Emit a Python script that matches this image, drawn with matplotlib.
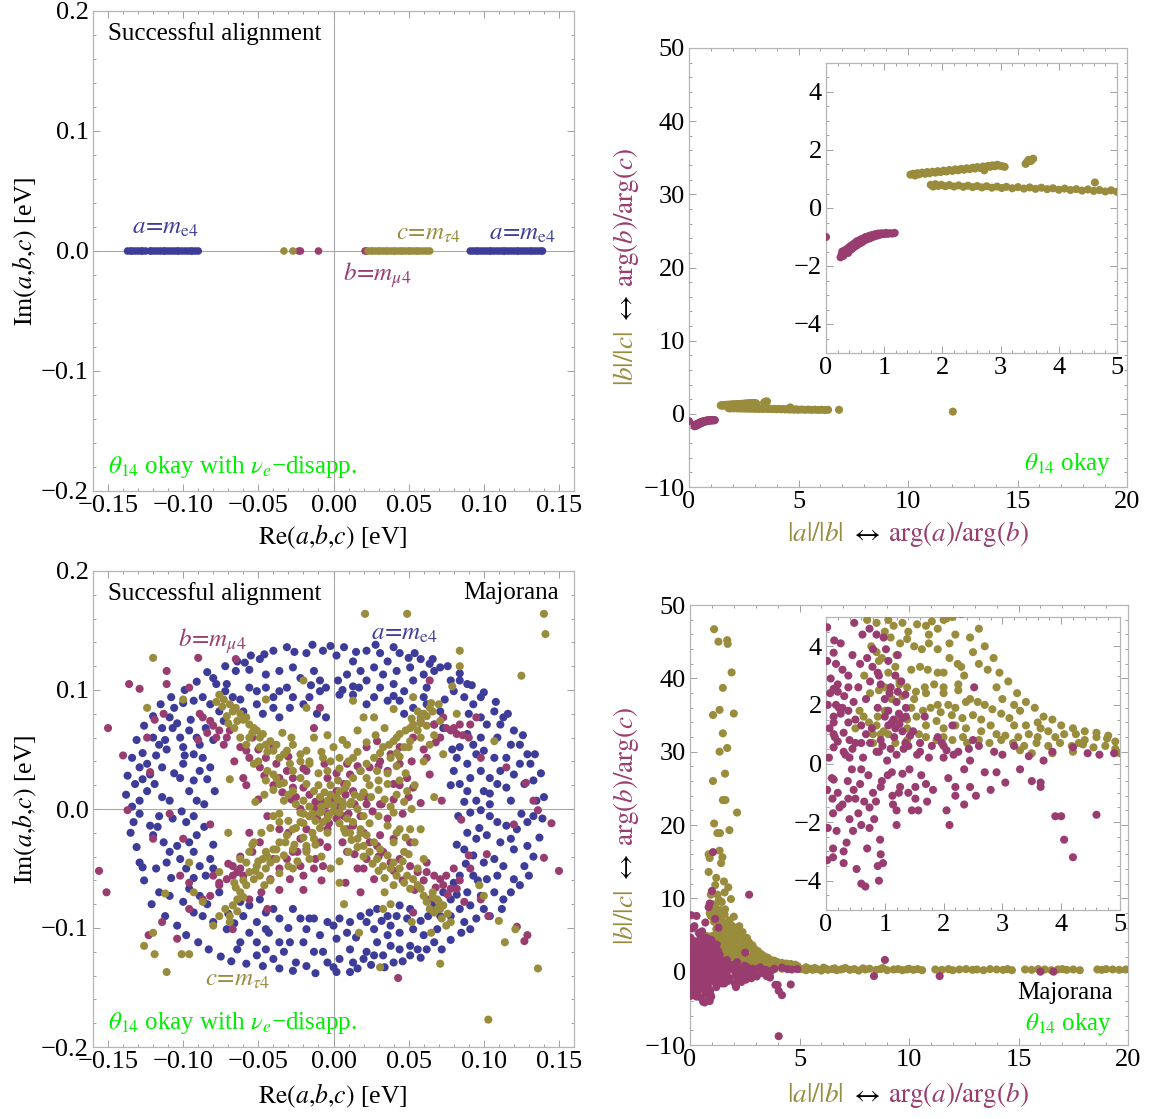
import numpy as np
import matplotlib
matplotlib.use("Agg")
import matplotlib.pyplot as plt
from matplotlib.ticker import AutoMinorLocator, FixedLocator

plt.rcParams['font.family'] = ['Liberation Serif', 'DejaVu Serif']
plt.rcParams['mathtext.fontset'] = 'stix'

BLUE = '#3d3d99'
MAG = '#993d71'
OLIVE = '#998c3d'
GREEN = '#00ee00'

# ---------------- top-left panel (complex plane, points on real axis) ----------------
tl_blue_x = [-0.137, -0.135, -0.134, -0.132, -0.130, -0.128, -0.127, -0.125, -0.122, -0.121,
             -0.119, -0.117, -0.115, -0.113, -0.112, -0.110, -0.108, -0.106, -0.104, -0.103,
             -0.101, -0.099, -0.097, -0.095, -0.094, -0.092, -0.090,
             0.091, 0.093, 0.095, 0.096, 0.098, 0.100, 0.102, 0.104, 0.105, 0.107, 0.109,
             0.111, 0.113, 0.114, 0.116, 0.118, 0.120, 0.122, 0.123, 0.125, 0.127, 0.129,
             0.131, 0.132, 0.134, 0.136, 0.138, 0.139]
tl_blue_y = [0.0] * len(tl_blue_x)
tl_olive_x = [-0.033, -0.027, 0.023, 0.025, 0.026, 0.028, 0.030, 0.031, 0.033, 0.035, 0.036,
              0.038, 0.040, 0.041, 0.043, 0.045, 0.046, 0.048, 0.050, 0.051, 0.053, 0.055,
              0.056, 0.058, 0.060, 0.062, 0.064]
tl_olive_y = [0.0] * len(tl_olive_x)
tl_mag_x = [-0.023, -0.022, -0.010, 0.021, 0.022]
tl_mag_y = [0.0] * len(tl_mag_x)

# ---------------- top-right panel (ratios; inset shows the same data) ----------------
tr_mag = [(0.00, -1.00), (0.25, -1.70), (0.27, -1.60), (0.28, -1.50), (0.30, -1.65), (0.32, -1.55),
          (0.33, -1.45), (0.35, -1.50), (0.37, -1.40), (0.38, -1.55), (0.40, -1.35), (0.42, -1.45),
          (0.43, -1.30), (0.45, -1.40), (0.47, -1.25), (0.48, -1.35), (0.50, -1.20), (0.52, -1.30),
          (0.53, -1.15), (0.55, -1.25), (0.57, -1.12), (0.58, -1.22), (0.60, -1.08), (0.62, -1.18),
          (0.64, -1.05), (0.66, -1.12), (0.68, -1.00), (0.70, -1.08), (0.72, -0.98), (0.74, -1.05),
          (0.76, -0.95), (0.78, -1.02), (0.80, -0.93), (0.83, -0.98), (0.85, -0.90), (0.88, -0.95),
          (0.90, -0.88), (0.93, -0.92), (0.96, -0.87), (1.00, -0.90), (1.03, -0.86), (1.06, -0.89),
          (1.10, -0.87), (1.14, -0.88), (1.18, -0.86)]
tr_olive = [(1.45, 1.15), (1.50, 1.18), (1.53, 1.12), (1.57, 1.20), (1.60, 1.16), (1.65, 1.22),
            (1.70, 1.18), (1.74, 1.24), (1.78, 1.20), (1.83, 1.25), (1.88, 1.22), (1.92, 1.27),
            (1.97, 1.24), (2.02, 1.29), (2.07, 1.26), (2.12, 1.31), (2.17, 1.28), (2.22, 1.33),
            (2.27, 1.30), (2.32, 1.35), (2.37, 1.32), (2.42, 1.37), (2.47, 1.34), (2.52, 1.39),
            (2.56, 1.36), (2.60, 1.41), (2.65, 1.38), (2.70, 1.43), (2.74, 1.40), (2.78, 1.45),
            (2.82, 1.42), (2.86, 1.47), (2.90, 1.44), (2.94, 1.49), (2.98, 1.46), (3.03, 1.44),
            (3.07, 1.42), (2.72, 1.30), (3.43, 1.52), (3.45, 1.58), (3.48, 1.66), (3.52, 1.62),
            (3.56, 1.70),
            (1.80, 0.80), (1.84, 0.74), (1.88, 0.82), (1.93, 0.76), (1.98, 0.80), (2.05, 0.75),
            (2.12, 0.79), (2.20, 0.74), (2.28, 0.78), (2.36, 0.73), (2.44, 0.77), (2.52, 0.72),
            (2.60, 0.76), (2.68, 0.71), (2.76, 0.75), (2.85, 0.70), (2.94, 0.74), (3.02, 0.69),
            (3.10, 0.73), (3.20, 0.68), (3.30, 0.72), (3.40, 0.67), (3.50, 0.71), (3.60, 0.66),
            (3.70, 0.70), (3.80, 0.65), (3.90, 0.68), (4.00, 0.63), (4.10, 0.67), (4.20, 0.62),
            (4.30, 0.65), (4.40, 0.60), (4.50, 0.64), (4.60, 0.59), (4.62, 0.88), (4.70, 0.62),
            (4.80, 0.57), (4.90, 0.61), (5.00, 0.56), (5.15, 0.59), (5.30, 0.55), (5.45, 0.58),
            (5.60, 0.54), (5.75, 0.57), (5.90, 0.53), (6.05, 0.56), (6.20, 0.52), (6.35, 0.55),
            (6.85, 0.55), (12.05, 0.30)]

# ---------------- bottom-left panel (Majorana, complex plane) ----------------
bl_blue = [
    (-0.040, 0.133), (-0.031, 0.136), (-0.018, 0.131), (-0.007, 0.133), (-0.049, 0.126), (-0.059, 0.123),
    (-0.065, 0.116), (-0.056, 0.117), (-0.045, 0.113), (-0.036, 0.116), (-0.027, 0.119), (-0.022, 0.110),
    (-0.013, 0.116), (-0.009, 0.108), (-0.005, 0.102), (-0.036, 0.099), (-0.031, 0.102), (-0.045, 0.102),
    (-0.051, 0.099), (-0.056, 0.102), (-0.071, 0.105), (-0.080, 0.110), (-0.078, 0.105), (-0.072, 0.099),
    (-0.087, 0.094), (-0.093, 0.091), (-0.100, 0.089), (-0.106, 0.085), (-0.109, 0.077), (-0.107, 0.068),
    (-0.114, 0.068), (-0.120, 0.060), (-0.116, 0.054), (-0.127, 0.047), (-0.124, 0.038), (-0.129, 0.035),
    (-0.132, 0.021), (-0.127, 0.025), (-0.122, 0.029), (-0.124, 0.015), (-0.119, 0.021), (-0.114, 0.035),
    (-0.102, 0.060), (-0.100, 0.052), (-0.096, 0.066), (-0.091, 0.060), (-0.093, 0.046), (-0.089, 0.054),
    (-0.087, 0.043), (-0.082, 0.035), (-0.089, 0.032), (-0.093, 0.024), (-0.096, 0.015), (-0.100, 0.038),
    (-0.102, 0.026), (-0.109, 0.007), (-0.114, 0.010), (-0.129, 0.007), (-0.091, 0.007), (-0.067, 0.094),
    (-0.060, 0.082), (-0.051, 0.088), (-0.047, 0.080), (-0.040, 0.085), (-0.036, 0.077), (-0.029, 0.085),
    (-0.020, 0.088), (-0.027, 0.094), (-0.016, 0.094), (-0.009, 0.099), (-0.005, 0.077), (-0.011, 0.080),
    (-0.076, 0.082), (-0.073, 0.074), (-0.134, 0.002), (-0.118, 0.045), (-0.111, 0.050),
    (0.007, 0.136), (0.002, 0.129), (0.013, 0.124), (0.022, 0.133), (0.031, 0.131), (0.044, 0.131),
    (0.050, 0.127), (0.058, 0.126), (0.064, 0.122), (0.071, 0.119), (0.036, 0.124), (0.027, 0.119),
    (0.018, 0.116), (0.009, 0.113), (0.003, 0.108), (0.033, 0.113), (0.042, 0.116), (0.051, 0.119),
    (0.060, 0.113), (0.067, 0.116), (0.022, 0.108), (0.013, 0.103), (0.004, 0.096), (0.031, 0.102),
    (0.040, 0.105), (0.047, 0.099), (0.053, 0.108), (0.062, 0.102), (0.078, 0.108), (0.084, 0.108),
    (0.089, 0.105), (0.080, 0.099), (0.087, 0.094), (0.093, 0.088), (0.098, 0.094), (0.027, 0.094),
    (0.036, 0.091), (0.044, 0.091), (0.053, 0.085), (0.062, 0.088), (0.071, 0.082), (0.022, 0.088),
    (0.013, 0.096), (0.047, 0.080), (0.067, 0.071), (0.073, 0.068), (0.098, 0.077), (0.107, 0.082),
    (0.102, 0.071), (0.111, 0.071), (0.113, 0.077), (0.109, 0.060), (0.098, 0.060), (0.089, 0.063),
    (0.093, 0.054), (0.084, 0.052), (0.100, 0.049), (0.118, 0.054), (0.124, 0.054), (0.129, 0.046),
    (0.131, 0.038), (0.124, 0.038), (0.115, 0.043), (0.107, 0.043), (0.095, 0.046), (0.089, 0.038),
    (0.082, 0.043), (0.080, 0.032), (0.091, 0.026), (0.098, 0.032), (0.104, 0.026), (0.111, 0.032),
    (0.120, 0.029), (0.127, 0.021), (0.133, 0.024), (0.115, 0.018), (0.109, 0.021), (0.100, 0.015),
    (0.089, 0.015), (0.095, 0.007), (0.104, 0.004), (0.118, 0.007), (0.135, 0.007), (0.084, 0.021),
    (0.091, -0.003), (0.098, -0.001), (0.104, -0.006), (0.109, -0.011), (0.115, -0.014), (0.122, -0.017),
    (0.129, -0.011), (0.133, -0.006), (0.089, -0.020), (0.095, -0.025), (0.102, -0.022), (0.111, -0.028),
    (0.120, -0.034), (0.129, -0.031), (0.087, -0.034), (0.093, -0.039), (0.100, -0.045), (0.107, -0.042),
    (0.113, -0.048), (0.127, -0.048), (0.084, -0.056), (0.093, -0.056), (0.102, -0.059), (0.109, -0.056),
    (0.120, -0.059), (0.107, -0.070), (0.113, -0.076), (0.098, -0.073), (0.089, -0.070), (0.080, -0.062),
    (0.073, -0.070), (0.078, -0.076), (0.084, -0.084), (0.091, -0.081), (0.100, -0.084), (0.078, -0.090),
    (0.087, -0.095), (0.091, -0.101), (0.067, -0.081), (0.071, -0.090), (0.069, -0.101), (0.067, -0.112),
    (0.060, -0.106), (0.053, -0.101), (0.049, -0.092), (0.051, -0.084), (0.044, -0.081), (0.042, -0.090),
    (0.038, -0.098), (0.044, -0.104), (0.051, -0.115), (0.056, -0.118), (0.044, -0.118), (0.038, -0.115),
    (0.033, -0.123), (0.036, -0.090), (0.029, -0.084), (0.024, -0.087), (0.022, -0.095), (0.027, -0.101),
    (0.029, -0.112), (0.022, -0.120), (0.027, -0.123), (0.018, -0.090), (0.011, -0.095), (0.004, -0.092),
    (0.009, -0.104), (0.002, -0.109), (0.011, -0.118), (0.004, -0.126), (0.013, -0.129), (0.020, -0.126),
    (0.002, -0.137), (0.011, -0.137), (0.036, -0.106), (0.040, -0.129), (0.051, -0.123),
    (-0.129, -0.004), (-0.133, -0.011), (-0.122, -0.014), (-0.116, -0.006), (-0.107, -0.008), (-0.098, -0.011),
    (-0.093, -0.006), (-0.120, -0.022), (-0.113, -0.028), (-0.109, -0.036), (-0.104, -0.031), (-0.096, -0.028),
    (-0.091, -0.022), (-0.093, -0.036), (-0.129, -0.045), (-0.127, -0.049), (-0.118, -0.050), (-0.111, -0.045),
    (-0.102, -0.042), (-0.089, -0.048), (-0.082, -0.042), (-0.080, -0.050), (-0.085, -0.056), (-0.116, -0.070),
    (-0.109, -0.073), (-0.096, -0.067), (-0.089, -0.073), (-0.100, -0.078), (-0.093, -0.087), (-0.087, -0.090),
    (-0.076, -0.070), (-0.080, -0.095), (-0.071, -0.101), (-0.062, -0.078), (-0.056, -0.081), (-0.049, -0.076),
    (-0.040, -0.084), (-0.045, -0.087), (-0.060, -0.090), (-0.051, -0.095), (-0.056, -0.104), (-0.062, -0.112),
    (-0.064, -0.118), (-0.051, -0.112), (-0.045, -0.118), (-0.036, -0.112), (-0.029, -0.112), (-0.033, -0.120),
    (-0.022, -0.092), (-0.013, -0.092), (-0.004, -0.095), (-0.018, -0.101), (-0.009, -0.106), (-0.020, -0.112),
    (-0.013, -0.120), (-0.007, -0.120), (-0.025, -0.129), (-0.018, -0.132), (-0.040, -0.126), (-0.051, -0.123),
    (-0.027, -0.084), (-0.036, -0.092), (-0.045, -0.101), (-0.004, -0.129)]
bl_blue_more = [
    (-0.138, 0.012), (-0.135, -0.020), (-0.131, -0.032), (-0.126, -0.060), (-0.121, -0.080), (-0.112, -0.090),
    (-0.104, -0.098), (-0.098, -0.106), (-0.090, -0.112), (-0.083, -0.118), (-0.075, -0.124), (-0.068, -0.128),
    (-0.058, -0.130), (-0.047, -0.132), (-0.036, -0.134), (-0.027, -0.136), (-0.012, -0.138), (0.000, -0.133),
    (0.016, -0.134), (0.025, -0.131), (0.034, -0.133), (0.046, -0.128), (0.058, -0.125), (0.062, -0.118),
    (0.072, -0.118), (0.078, -0.110), (0.085, -0.104), (0.095, -0.092), (0.104, -0.090), (0.112, -0.084),
    (0.118, -0.070), (0.124, -0.064), (0.130, -0.056), (0.133, -0.040), (0.137, -0.024), (0.139, -0.008),
    (0.140, 0.010), (0.138, 0.030), (0.134, 0.046), (0.126, 0.062), (0.120, 0.066), (0.116, 0.080),
    (0.108, 0.090), (0.100, 0.098), (0.092, 0.104), (0.084, 0.114), (0.076, 0.120), (0.066, 0.126),
    (0.054, 0.131), (0.040, 0.136), (0.028, 0.138), (0.015, 0.132), (-0.002, 0.137), (-0.014, 0.138),
    (-0.026, 0.132), (-0.046, 0.130), (-0.055, 0.129), (-0.064, 0.124), (-0.072, 0.120), (-0.084, 0.115),
    (-0.091, 0.107), (-0.099, 0.100), (-0.108, 0.094), (-0.115, 0.088), (-0.120, 0.078), (-0.126, 0.070),
    (-0.131, 0.058), (-0.134, 0.043), (-0.137, 0.028),
    (-0.095, 0.075), (-0.085, 0.068), (-0.080, 0.058), (-0.099, 0.045), (-0.106, 0.030), (-0.084, 0.025),
    (-0.079, 0.015), (-0.086, 0.004), (-0.101, -0.002), (-0.117, -0.015), (-0.086, -0.015), (-0.080, -0.030),
    (-0.098, -0.050), (-0.108, -0.058), (-0.093, -0.058), (-0.084, -0.080), (-0.070, -0.088), (-0.066, -0.096),
    (-0.043, -0.104), (-0.030, -0.100), (-0.016, -0.092), (0.000, -0.098), (0.015, -0.108), (0.032, -0.094),
    (0.058, -0.094), (0.063, -0.090), (0.082, -0.072), (0.096, -0.060), (0.088, -0.046), (0.082, -0.030),
    (0.097, -0.016), (0.083, -0.006), (0.118, -0.025), (0.125, -0.004), (0.104, 0.013), (0.087, 0.006),
    (0.078, 0.020), (0.079, 0.050), (0.090, 0.080), (0.074, 0.092), (0.060, 0.094), (0.040, 0.095),
    (0.017, 0.102), (0.006, 0.100), (-0.015, 0.104), (-0.040, 0.094), (-0.062, 0.092), (-0.082, 0.088),
    (-0.104, 0.072), (-0.112, 0.058)]

bl_olive = [
    (-0.120, 0.127), (-0.124, 0.085), (-0.100, 0.092), (-0.076, 0.096), (-0.073, 0.092), (-0.069, 0.088),
    (-0.067, 0.082), (-0.062, 0.080), (-0.060, 0.075), (-0.056, 0.071), (-0.053, 0.068), (-0.051, 0.066),
    (-0.049, 0.060), (-0.047, 0.063), (-0.045, 0.054), (-0.042, 0.057), (-0.040, 0.049), (-0.036, 0.043),
    (-0.033, 0.046), (-0.029, 0.038), (-0.027, 0.032), (-0.022, 0.026), (-0.018, 0.021), (-0.013, 0.015),
    (-0.009, 0.010), (-0.004, 0.007), (-0.058, 0.077), (-0.064, 0.074), (-0.056, 0.060), (-0.049, 0.052),
    (-0.038, 0.054), (-0.031, 0.049), (-0.027, 0.054), (-0.018, 0.049), (-0.013, 0.060), (-0.022, 0.040),
    (-0.016, 0.038), (-0.007, 0.043), (-0.004, 0.032), (-0.040, 0.029), (-0.036, 0.021), (-0.045, 0.024),
    (-0.027, 0.015), (-0.020, 0.007), (-0.033, 0.007), (-0.069, 0.025), (-0.053, 0.038), (-0.020, 0.108),
    (-0.018, 0.085), (-0.045, 0.092), (-0.065, 0.085), (-0.071, 0.078), (-0.054, 0.064), (-0.044, 0.048),
    (0.021, 0.164), (0.049, 0.164), (0.140, 0.164), (0.141, 0.147), (0.084, 0.133), (0.084, 0.120),
    (0.125, 0.112), (0.079, 0.103), (0.065, 0.089), (0.064, 0.085), (0.060, 0.080), (0.058, 0.077),
    (0.053, 0.071), (0.051, 0.068), (0.048, 0.066), (0.044, 0.063), (0.042, 0.060), (0.040, 0.057),
    (0.037, 0.054), (0.033, 0.052), (0.031, 0.047), (0.027, 0.043), (0.022, 0.038), (0.018, 0.032),
    (0.013, 0.026), (0.009, 0.021), (0.004, 0.015), (0.002, 0.010), (0.056, 0.066), (0.058, 0.060),
    (0.051, 0.057), (0.047, 0.052), (0.042, 0.047), (0.038, 0.043), (0.027, 0.077), (0.020, 0.077),
    (0.013, 0.091), (0.040, 0.084), (0.053, 0.094), (0.016, 0.066), (0.009, 0.054), (0.004, 0.043),
    (0.013, 0.043), (0.022, 0.026), (0.029, 0.032), (0.036, 0.021), (0.044, 0.024), (0.049, 0.015),
    (0.018, 0.010), (0.011, 0.004), (0.060, 0.040), (0.064, 0.054), (0.067, 0.010), (0.082, 0.080),
    (0.107, 0.057), (0.073, 0.046), (0.062, 0.070), (0.067, 0.062), (0.071, 0.074),
    (-0.070, -0.020), (-0.062, -0.042), (-0.058, -0.045), (-0.056, -0.053), (-0.053, -0.059), (-0.058, -0.064),
    (-0.062, -0.070), (-0.064, -0.076), (-0.067, -0.081), (-0.069, -0.090), (-0.076, -0.090), (-0.080, -0.098),
    (-0.051, -0.048), (-0.047, -0.042), (-0.045, -0.036), (-0.040, -0.034), (-0.036, -0.028), (-0.031, -0.022),
    (-0.027, -0.017), (-0.022, -0.011), (-0.016, -0.006), (-0.009, -0.003), (-0.049, -0.056), (-0.045, -0.050),
    (-0.042, -0.045), (-0.038, -0.042), (-0.033, -0.039), (-0.027, -0.034), (-0.018, -0.031), (-0.013, -0.025),
    (-0.004, -0.020), (-0.007, -0.011), (-0.022, -0.003), (-0.036, -0.011), (-0.040, -0.006), (-0.053, -0.028),
    (-0.056, -0.036), (-0.027, -0.050), (-0.016, -0.042), (-0.096, -0.045), (-0.076, -0.053), (-0.087, -0.078),
    (-0.112, -0.071), (-0.120, -0.104), (-0.126, -0.115), (-0.119, -0.122), (-0.101, -0.122), (-0.096, -0.122),
    (-0.111, -0.137), (-0.093, -0.070), (-0.069, -0.095), (-0.060, -0.060), (-0.065, -0.066),
    (0.004, -0.003), (0.009, -0.008), (0.013, -0.011), (0.018, -0.017), (0.022, -0.022), (0.027, -0.028),
    (0.031, -0.034), (0.036, -0.039), (0.040, -0.045), (0.044, -0.050), (0.049, -0.056), (0.053, -0.059),
    (0.056, -0.064), (0.058, -0.067), (0.060, -0.073), (0.062, -0.078), (0.064, -0.084), (0.067, -0.087),
    (0.071, -0.084), (0.073, -0.081), (0.075, -0.098), (0.078, -0.095), (0.051, -0.067), (0.047, -0.062),
    (0.042, -0.056), (0.038, -0.050), (0.033, -0.048), (0.029, -0.042), (0.024, -0.036), (0.020, -0.031),
    (0.016, -0.025), (0.011, -0.020), (0.007, -0.017), (0.040, -0.003), (0.044, -0.017), (0.051, -0.017),
    (0.058, -0.017), (0.040, -0.028), (0.047, -0.036), (0.060, -0.042), (0.056, -0.050), (0.004, -0.062),
    (0.007, -0.080), (0.034, -0.070), (0.017, -0.104), (0.038, -0.080), (0.052, -0.095), (0.065, -0.104),
    (0.031, -0.133), (0.071, -0.130), (0.097, -0.064), (0.100, -0.073), (0.110, -0.094), (0.114, -0.112),
    (0.121, -0.101), (0.136, -0.134), (0.103, -0.177), (0.033, -0.084), (0.066, -0.070), (0.069, -0.076),
    (0.000, 0.003), (-0.003, -0.005), (0.006, 0.002), (-0.008, 0.002), (0.003, 0.008), (-0.002, 0.012)]
bl_olive_more = [
    (-0.050, 0.040), (-0.044, 0.032), (-0.038, 0.026), (-0.033, 0.022), (-0.030, 0.012), (-0.025, 0.004),
    (-0.020, -0.004), (-0.016, 0.002), (-0.012, -0.010), (-0.010, 0.020), (-0.006, 0.014), (-0.002, 0.020),
    (0.003, 0.024), (0.008, 0.018), (0.012, 0.006), (0.016, 0.000), (0.020, -0.006), (0.025, 0.010),
    (0.030, 0.016), (0.034, 0.008), (0.038, 0.002), (0.042, 0.012), (0.047, 0.006), (0.052, 0.000),
    (0.054, 0.020), (0.048, 0.030), (0.042, 0.036), (0.036, 0.030), (0.030, 0.024), (0.024, 0.020),
    (0.020, 0.014), (0.014, 0.012), (0.006, 0.006), (0.000, -0.002), (-0.004, -0.008), (-0.009, -0.016),
    (-0.014, -0.020), (-0.020, -0.024), (-0.026, -0.030), (-0.032, -0.028), (-0.038, -0.034), (-0.044, -0.040),
    (-0.050, -0.044), (-0.054, -0.030), (-0.048, -0.020), (-0.042, -0.016), (-0.036, -0.004), (-0.030, -0.010),
    (-0.025, -0.016), (-0.020, -0.012), (-0.014, -0.004), (-0.008, -0.002), (-0.004, 0.004), (0.004, -0.012),
    (0.008, -0.020), (0.012, -0.026), (0.016, -0.032), (0.020, -0.040), (0.026, -0.046), (0.030, -0.052),
    (0.034, -0.058), (0.040, -0.064), (0.046, -0.044), (0.050, -0.038), (0.054, -0.028), (0.048, -0.024),
    (0.042, -0.020), (0.036, -0.014), (0.030, -0.006), (0.024, -0.012), (0.018, -0.020), (0.010, -0.036),
    (0.004, -0.044), (-0.002, -0.050), (-0.008, -0.040), (-0.012, -0.030), (-0.018, -0.036), (-0.024, -0.044),
    (-0.030, -0.048), (-0.036, -0.054), (-0.042, -0.060), (-0.046, -0.064), (-0.052, -0.052), (-0.010, 0.030),
    (-0.016, 0.040), (-0.022, 0.046), (-0.028, 0.060), (-0.034, 0.064), (-0.008, 0.048), (-0.002, 0.040),
    (0.004, 0.034), (0.010, 0.040), (0.016, 0.048), (0.022, 0.056), (0.028, 0.062), (0.034, 0.068),
    (0.006, 0.058), (0.000, 0.052), (-0.004, 0.062), (0.044, 0.044), (0.050, 0.052), (-0.046, 0.012),
    (-0.052, 0.006), (-0.040, 0.016), (-0.058, 0.054), (-0.062, 0.060), (-0.066, 0.068), (-0.070, 0.072),
    (-0.074, 0.086), (-0.078, 0.090), (0.066, -0.074), (0.070, -0.078), (0.072, -0.092), (0.076, -0.088),
    (0.069, -0.084), (-0.060, -0.074), (-0.066, -0.062), (-0.064, -0.086), (-0.072, -0.084), (0.058, 0.072),
    (0.062, 0.078), (0.066, 0.082), (0.070, 0.088), (0.056, 0.082), (0.052, 0.076)]

bl_mag = [
    (-0.090, 0.127), (-0.065, 0.126), (-0.111, 0.116), (-0.111, 0.105), (-0.136, 0.105), (-0.129, 0.101),
    (-0.096, 0.102), (-0.150, 0.068), (-0.140, 0.045), (-0.119, 0.075), (-0.113, 0.080), (-0.124, 0.060),
    (-0.122, 0.031), (-0.089, 0.080), (-0.087, 0.077), (-0.082, 0.074), (-0.080, 0.070), (-0.076, 0.066),
    (-0.078, 0.060), (-0.071, 0.060), (-0.069, 0.066), (-0.073, 0.054), (-0.058, 0.049), (-0.056, 0.043),
    (-0.049, 0.035), (-0.045, 0.043), (-0.038, 0.038), (-0.031, 0.032), (-0.027, 0.026), (-0.020, 0.018),
    (-0.016, 0.012), (-0.009, 0.007), (-0.025, 0.010), (-0.018, 0.032), (-0.013, 0.068), (-0.027, 0.018),
    (-0.036, 0.026), (-0.004, 0.026), (-0.060, 0.026), (-0.009, 0.085),
    (0.064, 0.108), (0.058, 0.074), (0.067, 0.071), (0.075, 0.068), (0.078, 0.066), (0.080, 0.068),
    (0.084, 0.071), (0.082, 0.063), (0.091, 0.071), (0.095, 0.077), (0.073, 0.077), (0.071, 0.060),
    (0.053, 0.060), (0.044, 0.052), (0.038, 0.046), (0.031, 0.040), (0.024, 0.035), (0.018, 0.032),
    (0.011, 0.029), (0.007, 0.021), (0.002, 0.015), (0.009, 0.038), (0.022, 0.052), (0.029, 0.057),
    (0.036, 0.032), (0.044, 0.038), (0.040, 0.021), (0.049, 0.026), (0.013, 0.015), (0.022, 0.010),
    (0.031, 0.004), (0.053, 0.018), (0.064, 0.029), (0.058, 0.005), (0.072, 0.007), (0.115, 0.035),
    (0.128, 0.022), (0.133, 0.007), (0.098, 0.043), (0.062, 0.043),
    (0.002, -0.008), (0.007, -0.006), (0.013, -0.014), (0.020, -0.020), (0.024, -0.028), (0.029, -0.031),
    (0.033, -0.036), (0.038, -0.045), (0.044, -0.042), (0.051, -0.048), (0.056, -0.053), (0.062, -0.053),
    (0.067, -0.056), (0.071, -0.059), (0.073, -0.064), (0.075, -0.056), (0.080, -0.050), (0.082, -0.067),
    (0.078, -0.067), (0.087, -0.078), (0.091, -0.050), (0.098, -0.076), (0.103, -0.090), (0.122, -0.099),
    (0.129, -0.106), (0.127, -0.111), (0.140, -0.041), (0.145, -0.012), (0.150, -0.052), (0.136, -0.001),
    (0.043, -0.142), (0.085, -0.009), (0.090, -0.039), (0.102, -0.038), (0.120, -0.013), (0.018, -0.006),
    (0.009, -0.017), (0.031, -0.022), (0.040, -0.025), (0.051, -0.028), (0.022, -0.042), (0.027, -0.059),
    (0.016, -0.050), (0.009, -0.036), (0.062, -0.045), (0.053, -0.087), (0.064, -0.076),
    (-0.137, -0.001), (-0.156, -0.052), (-0.151, -0.070), (-0.082, -0.013), (-0.109, -0.004), (-0.120, -0.025),
    (-0.100, -0.025), (-0.102, -0.056), (-0.096, -0.062), (-0.080, -0.056), (-0.076, -0.062), (-0.071, -0.059),
    (-0.067, -0.056), (-0.064, -0.053), (-0.062, -0.050), (-0.076, -0.064), (-0.067, -0.048), (-0.060, -0.056),
    (-0.056, -0.020), (-0.042, -0.059), (-0.036, -0.050), (-0.029, -0.059), (-0.022, -0.048), (-0.020, -0.056),
    (-0.013, -0.050), (-0.007, -0.048), (-0.018, -0.034), (-0.022, -0.025), (-0.027, -0.036), (-0.031, -0.042),
    (-0.009, -0.028), (-0.004, -0.017), (-0.011, -0.008), (-0.018, -0.017), (-0.036, -0.017), (-0.049, -0.028),
    (-0.040, -0.042), (-0.114, -0.095), (-0.123, -0.106), (-0.104, -0.109), (-0.067, -0.101), (-0.087, -0.076),
    (-0.096, -0.084), (-0.082, -0.073),
    (-0.005, 0.003), (0.003, -0.004), (-0.012, 0.006), (0.008, 0.012), (-0.003, -0.012)]
bl_mag_more = [
    (-0.046, 0.028), (-0.040, 0.020), (-0.034, 0.014), (-0.028, 0.008), (-0.022, 0.000), (-0.016, -0.006),
    (-0.012, 0.000), (-0.008, 0.006), (-0.004, -0.004), (0.000, 0.008), (0.004, 0.002), (0.010, -0.004),
    (0.014, 0.004), (0.018, 0.010), (0.022, 0.004), (0.026, -0.002), (0.032, 0.004), (0.036, -0.008),
    (0.040, 0.008), (0.046, -0.004), (0.050, 0.010), (0.044, 0.020), (0.030, 0.036), (0.016, 0.036),
    (0.002, 0.030), (-0.006, 0.038), (-0.020, 0.034), (-0.030, 0.044), (-0.040, 0.052), (-0.050, 0.050),
    (-0.054, 0.060), (-0.062, 0.052), (-0.066, 0.040), (-0.058, 0.020), (-0.050, 0.008), (-0.044, -0.006),
    (-0.030, -0.020), (-0.024, -0.036), (-0.012, -0.042), (-0.004, -0.032), (0.006, -0.028), (0.014, -0.038),
    (0.020, -0.050), (0.030, -0.040), (0.040, -0.052), (0.046, -0.060), (0.054, -0.068), (0.060, -0.060),
    (0.068, -0.066), (0.076, -0.072), (0.084, -0.060), (-0.048, -0.070), (-0.056, -0.076), (-0.044, -0.084),
    (-0.036, -0.068), (-0.020, -0.068), (-0.008, -0.060), (0.008, -0.062), (0.018, -0.070), (0.052, 0.040),
    (0.060, 0.050), (0.068, 0.056), (0.086, 0.062), (0.090, 0.060), (-0.084, 0.064), (-0.090, 0.058),
    (-0.062, -0.040), (-0.070, -0.046), (-0.054, -0.036)]

# ---------------- bottom-right panel (Majorana ratios; inset shows the same data) ----------------
br_olive = [
    (0.70, 4.90), (0.86, 4.80), (1.06, 4.90), (1.30, 4.80), (1.55, 4.75), (1.80, 4.85), (2.00, 4.90),
    (2.15, 5.00), (1.70, 4.70), (2.05, 4.95), (0.77, 4.00), (0.86, 3.80), (0.95, 3.60), (1.10, 4.30),
    (1.26, 4.10), (1.38, 4.25), (1.50, 4.00), (1.63, 3.90), (1.75, 4.10), (1.90, 3.90), (2.10, 3.60),
    (2.24, 3.40), (1.60, 3.30), (1.73, 3.20), (1.90, 3.10), (1.18, 3.30), (1.06, 3.10), (1.25, 2.80),
    (1.38, 2.60), (1.53, 2.45), (1.68, 2.60), (1.84, 2.70), (2.00, 2.60), (2.25, 2.70), (2.45, 2.20),
    (2.58, 2.10), (2.08, 2.00), (2.20, 1.90), (1.90, 2.00), (1.78, 1.90), (1.65, 1.80), (1.54, 1.60),
    (1.38, 1.50), (1.26, 1.50), (0.64, 1.60), (0.57, 1.80), (0.73, 1.40), (0.86, 1.30), (0.98, 1.10),
    (0.80, 1.00), (1.06, 1.00), (1.38, 1.20), (1.70, 1.30), (1.88, 1.45), (2.00, 1.20), (2.20, 1.30),
    (2.38, 1.20), (2.64, 1.50), (2.83, 1.85), (2.98, 1.70), (3.12, 1.55), (2.64, 1.10), (2.90, 1.00),
    (3.05, 0.95), (3.27, 0.90), (3.45, 1.00), (3.65, 1.20), (3.78, 1.10), (4.05, 1.00), (4.25, 1.00),
    (4.60, 0.90), (4.78, 0.85), (4.92, 0.75), (1.70, 0.90), (1.88, 0.80), (2.00, 0.90), (2.15, 0.80),
    (2.33, 0.90), (2.40, 0.70), (2.60, 0.80), (2.78, 0.70), (2.98, 0.80), (3.18, 0.70), (3.37, 0.60),
    (3.58, 0.70), (3.78, 0.60), (3.98, 0.70), (4.18, 0.60), (4.37, 0.65), (4.55, 0.55), (4.75, 0.60),
    (4.92, 0.50), (5.00, 0.35), (3.30, 0.45), (3.85, 0.35), (4.20, 0.40), (3.50, 0.35), (1.38, 0.80),
    (1.58, 1.00), (1.18, 0.70), (0.93, 1.00), (0.80, 0.70), (0.50, 1.20), (2.00, 2.40), (2.25, 2.50),
    (2.38, 2.10), (1.70, 2.40), (1.30, 2.30), (1.12, 2.20), (1.00, 1.80), (0.88, 1.60), (2.70, 2.00),
    (2.50, 1.65), (2.32, 1.55), (2.14, 1.65), (1.95, 1.75), (1.50, 2.20), (1.25, 2.70), (1.45, 3.20),
    (2.00, 3.10), (2.10, 4.10), (2.30, 3.30), (1.20, 3.70), (1.00, 4.50), (0.90, 2.50), (1.45, 1.90),
    (1.10, 46.70), (1.30, 45.00), (1.70, 45.20), (1.72, 44.70), (1.90, 40.80), (1.50, 38.70), (1.05, 35.00),
    (1.35, 35.70), (2.00, 35.20), (1.50, 32.50), (1.35, 30.00), (1.70, 30.50), (1.60, 27.00), (1.05, 26.00),
    (1.50, 23.40), (1.62, 23.40), (2.15, 21.70), (1.10, 20.20), (1.25, 18.90), (1.37, 18.90), (1.80, 19.30),
    (0.85, 16.00), (0.90, 15.50), (1.48, 15.60), (1.42, 14.80), (0.85, 13.60), (1.20, 12.80), (1.55, 12.30),
    (1.75, 11.50), (1.87, 9.90), (1.05, 9.20), (1.30, 8.00), (1.40, 7.20), (1.50, 6.50), (1.70, 6.00),
    (1.25, 10.50), (1.15, 11.80), (1.45, 9.50), (1.60, 8.50), (2.00, 7.50), (2.20, 5.50), (1.90, 6.30),
    (1.10, 6.80), (1.20, 5.80), (0.95, 7.60), (1.58, 10.80), (1.35, 16.50),
    (5.10, 0.35), (5.30, 0.20), (5.50, 0.40), (5.60, 0.25), (5.80, 0.35), (6.00, 0.15), (6.20, 0.40),
    (6.30, 0.25), (6.50, 0.35), (6.70, 0.20), (6.90, 0.30), (7.00, 0.40), (7.30, 0.25), (7.50, 0.35),
    (7.70, 0.15), (8.00, 0.30), (8.20, 0.40), (8.50, 0.25), (8.70, 0.35), (9.00, 0.20), (9.30, 0.30),
    (9.50, 0.35), (9.70, 0.20), (9.90, 0.30), (10.20, 0.25), (10.40, 0.35), (10.60, 0.20), (11.20, 0.30),
    (11.50, 0.25), (11.80, 0.35), (12.00, 0.20), (12.30, 0.30), (12.60, 0.35), (12.90, 0.25), (13.10, 0.30),
    (13.40, 0.20), (13.70, 0.35), (14.00, 0.30), (14.30, 0.25), (14.50, 0.35), (14.70, 0.20), (15.30, 0.30),
    (15.60, 0.25), (15.90, 0.35), (16.20, 0.30), (16.50, 0.20), (16.80, 0.30), (17.00, 0.35), (17.20, 0.25),
    (17.50, 0.30), (17.80, 0.20), (18.60, 0.30), (18.80, 0.25), (19.00, 0.35), (19.30, 0.30), (19.60, 0.25),
    (19.90, 0.30), (3.20, 1.30), (3.60, 0.90), (4.40, 0.80)]
br_olive_more = [
    (0.95, 10.5), (1.05, 8.2), (1.15, 9.0), (1.20, 7.5), (1.28, 6.8), (1.32, 9.8), (1.38, 8.4), (1.45, 7.0),
    (1.52, 5.6), (1.58, 7.8), (1.65, 6.6), (1.72, 5.2), (1.80, 7.0), (1.85, 5.8), (1.95, 5.3), (2.05, 6.0),
    (2.10, 5.2), (2.25, 6.2), (2.30, 5.1), (2.40, 5.4), (2.60, 4.6), (2.70, 4.0), (2.85, 3.6), (2.95, 3.1),
    (3.10, 2.8), (3.25, 2.4), (3.40, 2.1), (3.55, 1.9), (3.70, 1.6), (3.85, 1.5), (4.00, 1.3), (4.20, 1.2),
    (4.40, 1.1), (4.60, 1.05), (4.80, 0.95), (2.50, 3.8), (2.75, 3.2), (3.00, 2.2), (3.30, 1.8), (3.60, 1.4),
    (0.90, 8.0), (1.10, 7.0), (1.35, 5.8), (1.60, 5.4), (1.90, 4.6), (2.20, 4.4), (2.45, 4.3), (2.60, 3.4),
    (2.90, 2.6), (3.20, 2.0), (1.75, 4.4), (2.35, 3.0), (1.40, 4.5), (0.75, 2.4), (0.65, 3.0), (0.90, 3.5),
    (1.15, 4.7), (1.00, 2.6), (2.80, 1.3), (3.40, 1.3), (3.90, 0.9), (4.30, 0.7), (5.30, 0.6), (5.70, 0.5),
    (6.10, 0.55), (6.60, 0.45), (7.10, 0.5), (7.90, 0.45), (8.80, 0.5), (10.00, 0.4)]

br_mag = [
    (0.02, 4.65), (0.13, 3.78), (0.02, 3.50), (0.17, 3.40), (0.28, 3.20), (0.38, 3.00), (0.20, 2.70),
    (0.13, 2.55), (0.07, 2.40), (0.20, 2.45), (0.31, 2.30), (0.47, 2.10), (0.17, 2.00), (0.28, 1.90),
    (0.38, 1.80), (0.13, 1.60), (0.25, 1.70), (0.13, 1.40), (0.38, 1.40), (0.70, 3.60), (0.86, 4.40),
    (0.98, 4.30), (0.79, 3.30), (0.88, 3.10), (1.06, 3.50), (1.18, 3.00), (0.75, 2.80), (0.93, 2.70),
    (1.10, 2.60), (1.22, 2.45), (1.35, 2.35), (1.00, 2.20), (1.20, 2.10), (0.88, 1.90), (1.06, 1.80),
    (1.24, 1.70), (1.36, 1.60), (1.12, 1.40), (1.06, 1.30), (1.18, 1.20), (1.30, 1.10), (1.43, 0.95),
    (0.68, 1.00), (0.30, 1.05), (0.13, 1.00), (0.40, 0.80), (0.60, 0.70), (0.75, 0.70), (0.93, 0.80),
    (1.35, 0.70), (1.60, 0.70), (1.80, 0.60), (2.00, 0.60), (0.13, 0.55), (0.30, 0.40), (0.50, 0.70),
    (0.20, 0.75), (1.60, 0.40), (2.50, 0.80), (2.52, 2.60), (2.86, 0.40), (3.20, 0.60), (3.45, 0.25),
    (3.70, 0.10), (3.85, 0.40), (4.20, 0.55), (4.45, 0.35), (4.65, 0.30), (4.90, 0.35), (2.05, 0.45),
    (2.17, 0.30), (2.43, 0.50), (1.97, 0.70), (1.25, 1.35), (1.15, 1.50), (1.30, 1.55), (0.55, 2.60),
    (0.60, 1.30), (0.45, 0.50), (0.90, 0.40), (1.10, 0.50),
    (0.13, -0.55), (0.20, -1.00), (0.02, -0.90), (0.11, -1.20), (0.23, -1.50), (0.38, -1.20), (0.47, -0.90),
    (0.37, -0.60), (0.58, -0.70), (0.50, -1.20), (0.74, -1.50), (0.80, -1.00), (0.93, -0.80), (1.05, -0.40),
    (1.13, -1.10), (1.30, -0.35), (1.24, -1.00), (1.40, -1.00), (1.52, -0.80), (1.70, -0.70), (1.46, -1.60),
    (1.57, -1.60), (1.20, -1.60), (1.20, -2.10), (2.10, -2.10), (2.20, -0.80), (2.20, -1.10), (2.35, -0.20),
    (2.45, -0.80), (2.55, -1.10), (2.70, -0.30), (2.90, -0.30), (3.05, -0.65), (3.65, -0.65), (3.65, -0.80),
    (3.90, -1.80), (4.00, -1.80), (4.05, -2.60), (4.20, -3.20), (4.60, -1.75), (0.46, -2.30), (0.60, -2.10),
    (0.12, -2.90), (0.12, -3.20), (0.02, -3.30), (0.30, -3.00), (0.30, -3.40), (0.60, -4.10), (0.67, -4.20),
    (0.93, -3.10), (0.97, -3.40), (0.88, -3.50), (0.90, -4.00), (0.40, -1.90), (0.74, -2.20), (0.65, -1.30),
    (0.85, -1.30),
    (0.05, 7.70), (0.30, 7.60), (0.20, 6.20), (0.70, 6.70), (0.90, 9.30), (1.00, 11.00), (1.05, 16.30),
    (0.85, 8.80), (1.15, 7.20), (1.30, 6.00), (0.55, 5.50), (2.70, 10.50), (0.10, 5.90), (0.40, 5.30),
    (4.05, -8.80), (8.40, -0.60), (8.90, 1.60), (11.40, -0.60), (16.00, 0.00), (16.60, 0.00)]
br_mag_more = [
    (0.05, 0.2), (0.10, -0.5), (0.15, 0.9), (0.22, 1.9), (0.28, -1.4), (0.33, 0.3), (0.38, 2.6), (0.44, -0.2),
    (0.50, 1.5), (0.55, -1.7), (0.58, 3.4), (0.63, 0.2), (0.68, 2.2), (0.72, -0.4), (0.78, 1.2), (0.82, -1.9),
    (0.86, 0.4), (0.90, 3.0), (0.95, -0.6), (1.00, 1.6), (1.04, 0.1), (1.08, 2.4), (1.12, -0.3), (1.16, 0.9),
    (1.22, 3.7), (1.26, -0.8), (1.32, 0.5), (1.36, 1.9), (1.42, -0.2), (1.48, 1.1), (1.55, 0.3), (1.62, -0.4),
    (1.68, 1.6), (1.75, 0.2), (1.82, -0.9), (1.90, 0.9), (2.00, 0.2), (2.08, -0.5), (2.15, 1.3), (2.25, 0.4),
    (2.35, -1.4), (2.45, 0.1), (2.60, 0.6), (2.80, -0.9), (3.00, 0.3), (3.30, -0.2), (3.50, -0.6), (0.08, 2.9),
    (0.18, -2.3), (0.25, 4.1), (0.35, -2.7), (0.45, 3.7), (0.52, -3.6), (0.62, 4.4), (0.70, -2.9), (0.80, 3.9),
    (0.92, -2.6), (1.02, 3.9), (1.14, -1.4), (1.28, 2.8), (0.06, 1.2), (0.12, -1.7), (0.40, 0.2), (0.60, -0.2),
    (0.96, 0.6), (1.20, 0.3), (1.40, 0.6), (1.52, -1.2), (1.72, -1.3), (2.05, -1.6), (0.03, -2.2), (0.03, 2.0),
    (0.14, 4.2), (0.48, 4.8), (0.74, 4.6)]


def xy(*lists):
    a = np.array([p for lst in lists for p in lst], dtype=float)
    return a[:, 0], a[:, 1]


FIG_W, FIG_H = 1153, 1119
fig = plt.figure(figsize=(FIG_W / 100, FIG_H / 100), dpi=100)


def axes_px(l, t, r, b):
    return fig.add_axes([l / FIG_W, 1 - b / FIG_H, (r - l) / FIG_W, (b - t) / FIG_H])


TICK_FS = 19
LABEL_FS = 18.5
ANN_FS = 18
MC_FS = 19.5


def fmt(v, nd):
    s = f"{v:.{nd}f}"
    if v < 0:
        s = "\u2212" + s[1:]
    return s


def style(ax, xlim, ylim, xt, yt, xnd, ynd, xminor, yminor, fs=TICK_FS):
    ax.set_xlim(*xlim)
    ax.set_ylim(*ylim)
    ax.xaxis.set_major_locator(FixedLocator(xt))
    ax.yaxis.set_major_locator(FixedLocator(yt))
    ax.set_xticklabels([fmt(v, xnd) for v in xt])
    ax.set_yticklabels([fmt(v, ynd) for v in yt])
    ax.xaxis.set_minor_locator(AutoMinorLocator(xminor))
    ax.yaxis.set_minor_locator(AutoMinorLocator(yminor))
    for s in ax.spines.values():
        s.set_color('#b5b5b5')
        s.set_linewidth(0.9)
    ax.tick_params(which='both', direction='in', top=True, right=True, color='#a0a0a0',
                   labelsize=fs, width=0.7)
    ax.tick_params(which='major', length=5, pad=3)
    ax.tick_params(which='minor', length=2.5)


S_TOP = 30
S = 34

# ---- top-left
ax1 = axes_px(93, 11, 574, 491)
style(ax1, (-0.16, 0.16), (-0.2, 0.2), [-0.15, -0.10, -0.05, 0.0, 0.05, 0.10, 0.15],
      [-0.2, -0.1, 0.0, 0.1, 0.2], 2, 1, 5, 5)
ax1.axhline(0, color='#a8a8a8', lw=0.8, zorder=0)
ax1.axvline(0, color='#a8a8a8', lw=0.8, zorder=0)
ax1.scatter(tl_blue_x, tl_blue_y, s=S_TOP, color=BLUE, edgecolors='none', zorder=3)
ax1.scatter(tl_mag_x, tl_mag_y, s=S_TOP, color=MAG, edgecolors='none', zorder=3)
ax1.scatter(tl_olive_x, tl_olive_y, s=S_TOP, color=OLIVE, edgecolors='none', zorder=3)
ax1.text(-0.150, 0.1815, "Successful alignment", fontsize=ANN_FS, va='center', ha='left')
ax1.text(-0.112, 0.019, r"$a\!=\!m_{\mathrm{e}4}$", color=BLUE, fontsize=ANN_FS, ha='center', va='center')
ax1.text(0.126, 0.014, r"$a\!=\!m_{\mathrm{e}4}$", color=BLUE, fontsize=ANN_FS, ha='center', va='center')
ax1.text(0.063, 0.014, r"$c\!=\!m_{\tau4}$", color=OLIVE, fontsize=ANN_FS, ha='center', va='center')
ax1.text(0.029, -0.020, r"$b\!=\!m_{\mu4}$", color=MAG, fontsize=ANN_FS, ha='center', va='center')
ax1.text(-0.150, -0.180, r"$\theta_{14}$ okay with $\nu_e$" + "\u2212disapp.", color=GREEN,
         fontsize=ANN_FS, ha='left', va='center')

# ---- bottom-left
ax3 = axes_px(93, 571, 574, 1047)
style(ax3, (-0.16, 0.16), (-0.2, 0.2), [-0.15, -0.10, -0.05, 0.0, 0.05, 0.10, 0.15],
      [-0.2, -0.1, 0.0, 0.1, 0.2], 2, 1, 5, 5)
ax3.axhline(0, color='#a8a8a8', lw=0.8, zorder=0)
ax3.axvline(0, color='#a8a8a8', lw=0.8, zorder=0)
bx, by = xy(bl_blue, bl_blue_more)
mx, my = xy(bl_mag, bl_mag_more)
ox, oy = xy(bl_olive, bl_olive_more)
ax3.scatter(bx, by, s=S, color=BLUE, edgecolors='none', zorder=3)
ax3.scatter(mx, my, s=S, color=MAG, edgecolors='none', zorder=3)
ax3.scatter(ox, oy, s=S, color=OLIVE, edgecolors='none', zorder=3)
ax3.text(-0.150, 0.1815, "Successful alignment", fontsize=ANN_FS, va='center', ha='left')
ax3.text(0.150, 0.1815, "Majorana", fontsize=ANN_FS, va='center', ha='right')
ax3.text(-0.081, 0.141, r"$b\!=\!m_{\mu4}$", color=MAG, fontsize=ANN_FS, ha='center', va='center')
ax3.text(0.047, 0.147, r"$a\!=\!m_{\mathrm{e}4}$", color=BLUE, fontsize=ANN_FS, ha='center', va='center')
ax3.text(-0.064, -0.144, r"$c\!=\!m_{\tau4}$", color=OLIVE, fontsize=ANN_FS, ha='center', va='center')
ax3.text(-0.150, -0.180, r"$\theta_{14}$ okay with $\nu_e$" + "\u2212disapp.", color=GREEN,
         fontsize=ANN_FS, ha='left', va='center')

# ---- top-right
ax2 = axes_px(689, 48, 1127, 487)
style(ax2, (0, 20), (-10, 50), [0, 5, 10, 15, 20], [-10, 0, 10, 20, 30, 40, 50], 0, 0, 5, 5)
tmx, tmy = xy(tr_mag)
tox, toy = xy(tr_olive)
ax2.scatter(tmx, tmy, s=S, color=MAG, edgecolors='none', zorder=3)
ax2.scatter(tox, toy, s=S, color=OLIVE, edgecolors='none', zorder=3)
ax2.text(19.3, -6.9, r"$\theta_{14}$ okay", color=GREEN, fontsize=ANN_FS, ha='right', va='center')
ax2i = axes_px(826, 63, 1117, 353)
style(ax2i, (0, 5), (-5, 5), [0, 1, 2, 3, 4, 5], [-4, -2, 0, 2, 4], 0, 0, 5, 4)
ax2i.scatter(tmx, tmy, s=S, color=MAG, edgecolors='none', zorder=3)
ax2i.scatter(tox, toy, s=S, color=OLIVE, edgecolors='none', zorder=3)

# ---- bottom-right
ax4 = axes_px(690, 605, 1128, 1045)
style(ax4, (0, 20), (-10, 50), [0, 5, 10, 15, 20], [-10, 0, 10, 20, 30, 40, 50], 0, 0, 5, 5)
box, boy = xy(br_olive, br_olive_more)
bmx, bmy = xy(br_mag, br_mag_more)
ax4.scatter(box, boy, s=S, color=OLIVE, edgecolors='none', zorder=3)
ax4.scatter(bmx, bmy, s=S, color=MAG, edgecolors='none', zorder=3)
ax4.text(19.3, -2.9, "Majorana", fontsize=ANN_FS, ha='right', va='center')
ax4.text(19.3, -7.1, r"$\theta_{14}$ okay", color=GREEN, fontsize=ANN_FS, ha='right', va='center')
ax4i = axes_px(826, 617, 1120, 910)
style(ax4i, (0, 5), (-5, 5), [0, 1, 2, 3, 4, 5], [-4, -2, 0, 2, 4], 0, 0, 5, 4)
ax4i.scatter(box, boy, s=S, color=OLIVE, edgecolors='none', zorder=3)
ax4i.scatter(bmx, bmy, s=S, color=MAG, edgecolors='none', zorder=3)

# ---- axis labels
fig.text(333 / FIG_W, 1 - 544 / FIG_H, r"$\mathrm{Re}(a{,}b{,}c)$ [eV]", fontsize=LABEL_FS,
         ha='center', va='baseline')
fig.text(333 / FIG_W, 1 - 1103 / FIG_H, r"$\mathrm{Re}(a{,}b{,}c)$ [eV]", fontsize=LABEL_FS,
         ha='center', va='baseline')
fig.text(32 / FIG_W, 1 - 251 / FIG_H, r"$\mathrm{Im}(a{,}b{,}c)$ [eV]", fontsize=LABEL_FS,
         rotation=90, rotation_mode='anchor', ha='center', va='baseline')
fig.text(32 / FIG_W, 1 - 809 / FIG_H, r"$\mathrm{Im}(a{,}b{,}c)$ [eV]", fontsize=LABEL_FS,
         rotation=90, rotation_mode='anchor', ha='center', va='baseline')

renderer = fig.canvas.get_renderer()
GAP = 7  # pixels of space on each side of the arrow


def multicolor(x_px, y_px, pieces, rotation=0, fs=MC_FS):
    widths = []
    for s, c, pad in pieces:
        t = fig.text(0, 0, s, fontsize=fs)
        widths.append(t.get_window_extent(renderer).width + 2 * pad)
        t.remove()
    total = sum(widths)
    if rotation == 0:
        cur = x_px - total / 2
        for (s, c, pad), w in zip(pieces, widths):
            fig.text((cur + w / 2) / FIG_W, 1 - y_px / FIG_H, s, color=c, fontsize=fs,
                     ha='center', va='baseline')
            cur += w
    else:
        cur = (FIG_H - y_px) - total / 2
        for (s, c, pad), w in zip(pieces, widths):
            fig.text(x_px / FIG_W, (cur + w / 2) / FIG_H, s, color=c, fontsize=fs, rotation=90,
                     rotation_mode='anchor', ha='center', va='baseline')
            cur += w


xlab = [(r"$|a|/|b|$", OLIVE, 0), (r"$\leftrightarrow$", 'black', GAP),
        (r"$\mathrm{arg}(a)/\mathrm{arg}(b)$", MAG, 0)]
ylab = [(r"$|b|/|c|$", OLIVE, 0), (r"$\leftrightarrow$", 'black', GAP),
        (r"$\mathrm{arg}(b)/\mathrm{arg}(c)$", MAG, 0)]
multicolor(908, 541, xlab)
multicolor(908, 1102, xlab)
multicolor(633, 267, ylab, rotation=90)
multicolor(633, 826, ylab, rotation=90)

fig.savefig("out.png", dpi=100)
